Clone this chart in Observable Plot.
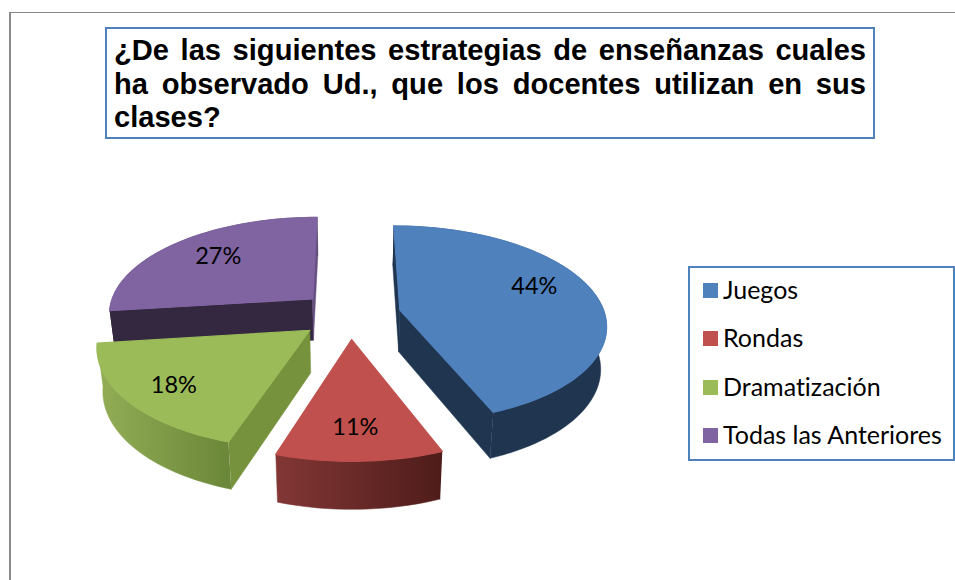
<!DOCTYPE html>
<html lang="es">
<head>
<meta charset="utf-8">
<script src="https://cdn.jsdelivr.net/npm/d3@7"></script>
<script src="https://cdn.jsdelivr.net/npm/@observablehq/plot@0.6"></script>
<style>
html,body{margin:0;padding:0;background:#fff;overflow:hidden;width:955px;height:580px}
#frame{position:absolute;left:9px;top:12px;width:946px;height:568px;border-top:1.5px solid #8a8a8a;border-left:2px solid #8a8a8a;box-sizing:border-box}
#chart{position:absolute;left:0;top:0}
#chart svg{display:block}
#title{position:absolute;left:105px;top:27px;width:770px;height:112px;box-sizing:border-box;border:2px solid #4f81bd;background:#fff;padding:5px 7px 0 7px;
font:bold 29.1px/33.5px "Liberation Sans",Arial,sans-serif;color:#000;text-align:justify}
#legend{position:absolute;left:688px;top:266px;width:267px;height:195px;box-sizing:border-box;border:2px solid #4f81bd;background:#fff}
.item{position:absolute;left:13px;height:20px;font:25px/20px Lato,sans-serif;font-variant-ligatures:none;color:#000;white-space:nowrap}
.item i{position:absolute;left:0;top:2px;width:15px;height:15px}
.item span{position:absolute;left:20px;top:-2px}
</style>
</head>
<body>
<div id="frame"></div>
<div id="chart"></div>
<div id="title">¿De las siguientes estrategias de enseñanzas cuales ha observado Ud., que los docentes utilizan en sus clases?</div>
<div id="legend"></div>
<script>
const categories = ["Juegos", "Rondas", "Dramatización", "Todas las Anteriores"];
const shares = [44, 11, 18, 27];
const labels = ["44%", "11%", "18%", "27%"];
const topColors = ["#4f81bd", "#c0504d", "#9bbb59", "#8064a2"];
const startEdgeColors = ["#1f3550", "#6b2d2b", "#76923c", "#33283f"];
const endEdgeColors = ["#1f3550", "#6b2d2b", "#76923c", "#665082"];
const labelAngles = [70.1, 178.9, 229.2, 313.6];
const labelRadii = [0.736, 0.756, 0.776, 0.711];
const paintOrder = [3, 0, 2, 1];

// pie camera
const cx = 349.5, cy = 314, A = 205, B = 97, persp = 0.14, depth = 42, explode = 0.249, floorShrink = 0.977;
const rad = d => d * Math.PI / 180;
const total = d3.sum(shares);
let run = 0;
const slices = shares.map((v, i) => {
  const a0 = run / total * 360; run += v; const a1 = run / total * 360;
  const mid = (a0 + a1) / 2;
  return {i, a0, a1, mid, bu: explode * Math.sin(rad(mid)), bv: -explode * Math.cos(rad(mid))};
});
function pt(s, deg, r, floor) {
  const u = s.bu + r * Math.sin(rad(deg)), v = s.bv - r * Math.cos(rad(deg));
  const k = 1 / (1 - persp * v);
  return {
    x: cx + A * u * k * (floor ? floorShrink : 1),
    y: cy + B * v * k + (floor ? depth * Math.pow(k, 0.7) : 0)
  };
}
function arc(s, floor) {
  const n = Math.ceil((s.a1 - s.a0) / 2), out = [];
  for (let j = 0; j <= n; j++) out.push(pt(s, s.a0 + (s.a1 - s.a0) * j / n, 1, floor));
  return out;
}
const poly = (points, fill, strokeWidth = 0.5) => Plot.line(points, {x: "x", y: "y", fill, stroke: fill, strokeWidth});
// a radial wall faces the viewer when the extrusion and the slice lie on opposite sides of its top edge
function wallFaces(s, deg) {
  const P = pt(s, 0, 0, false), Q = pt(s, deg, 1, false), I = pt(s, s.mid, 0.5, false);
  const dx = Q.x - P.x, dy = Q.y - P.y;
  return dx * (I.y - P.y) - dy * (I.x - P.x) > 0 !== dx > 0;
}

const sideFill = ["#1f3550", "url(#wallRed)", "url(#wallGreen)", "#33283f"];
const marks = [() => {
  const defs = d3.create("svg:defs");
  const g = (id, a, b) => {
    const lg = defs.append("linearGradient").attr("id", id);
    lg.append("stop").attr("offset", 0).attr("stop-color", a);
    lg.append("stop").attr("offset", 1).attr("stop-color", b);
  };
  g("wallRed", "#823735", "#4e1c1a");
  g("wallGreen", "#93ae56", "#6a8638");
  return defs.node();
}];
for (const i of paintOrder) {
  const s = slices[i];
  const apexT = pt(s, 0, 0, false), apexB = pt(s, 0, 0, true);
  const walls = [
    {on: wallFaces(s, s.a0), mark: poly([pt(s, s.a0, 1, false), apexT, apexB, pt(s, s.a0, 1, true)], startEdgeColors[i])},
    {on: wallFaces(s, s.a1), mark: poly([pt(s, s.a1, 1, false), apexT, apexB, pt(s, s.a1, 1, true)], endEdgeColors[i])}
  ];
  marks.push(poly([...arc(s, false), ...arc(s, true).reverse()], sideFill[i]));
  for (const w of walls) if (w.on) marks.push(w.mark);
  marks.push(poly([apexT, ...arc(s, false), apexT], topColors[i], 1.2));
}
const labelRows = slices.map((s, i) => ({label: labels[i], ...pt(s, labelAngles[i], labelRadii[i], false)}));
marks.push(Plot.text(labelRows, {x: "x", y: "y", text: "label", fontSize: 23.5, fontFamily: "Lato, sans-serif", fill: "#000", textAnchor: "middle"}));

const plot = Plot.plot({
  width: 955, height: 580, margin: 0,
  x: {domain: [0, 955], range: [0, 955], axis: null},
  y: {domain: [0, 580], range: [0, 580], axis: null},
  style: {background: "transparent"},
  marks
});
document.getElementById("chart").append(plot);

const legend = document.getElementById("legend");
categories.forEach((c, i) => {
  const el = document.createElement("div");
  el.className = "item";
  el.style.top = (13 + i * 48.3) + "px";
  const sw = document.createElement("i"); sw.style.background = topColors[i];
  const tx = document.createElement("span"); tx.textContent = c;
  el.append(sw, tx); legend.append(el);
});
</script>
</body>
</html>
